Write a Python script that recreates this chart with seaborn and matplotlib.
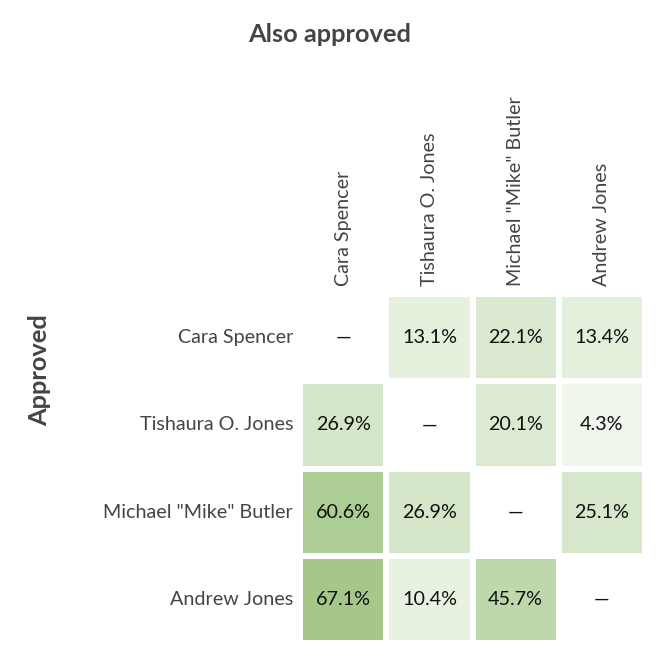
import numpy as np
import pandas as pd
import seaborn as sns
import matplotlib.pyplot as plt
from matplotlib.colors import LinearSegmentedColormap

candidates = ["Cara Spencer", "Tishaura O. Jones", "Michael \"Mike\" Butler", "Andrew Jones"]
row_cara = [np.nan, 13.1, 22.1, 13.4]
row_tishaura = [26.9, np.nan, 20.1, 4.3]
row_butler = [60.6, 26.9, np.nan, 25.1]
row_andrew = [67.1, 10.4, 45.7, np.nan]

df = pd.DataFrame([row_cara, row_tishaura, row_butler, row_andrew],
                  index=candidates, columns=candidates)

sns.set_theme(style="white")
plt.rcParams['font.family'] = ['Lato', 'DejaVu Sans']

labels = df.map(lambda v: "" if pd.isna(v) else f"{v:.1f}%")

cmap = LinearSegmentedColormap.from_list("g", ["#f4f9f1", "#a5c88a"])

FS = 14.2
fig = plt.figure(figsize=(6.72, 6.58), dpi=100)
ax = fig.add_axes([300/672, 1 - 643/658, 345/672, 349/658])
sns.heatmap(df, ax=ax, cmap=cmap, vmin=0, vmax=67.1, annot=labels, fmt="",
            annot_kws={"fontsize": FS, "color": "#111111"},
            linewidths=3, linecolor="white", cbar=False, square=False)

for i in range(len(candidates)):
    ax.text(i + 0.5, i + 0.5, "—", ha="center", va="center",
            fontsize=FS, color="#111111")

ax.xaxis.tick_top()
ax.set_xticklabels(candidates, rotation=90, fontsize=FS, color="#444444")
ax.set_yticklabels(candidates, rotation=0, fontsize=FS, color="#444444")
ax.tick_params(axis="x", length=0, pad=6)
ax.tick_params(axis="y", length=0, pad=5)
ax.set_xlabel("")
ax.set_ylabel("Approved", fontsize=18.3, fontweight="bold", color="#444444", labelpad=0)
ax.yaxis.set_label_coords(-0.722, 0.782)
for s in ax.spines.values():
    s.set_visible(False)

fig.text(330/672, 1 - 35/658, "Also approved", ha="center", va="center",
         fontsize=18.3, fontweight="bold", color="#444444")

fig.savefig("out.png", dpi=100, facecolor="white")
